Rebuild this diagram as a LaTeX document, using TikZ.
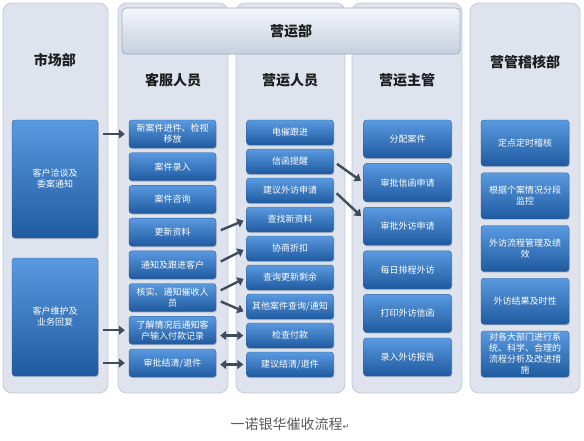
\documentclass[tikz,border=0pt]{standalone}
\usepackage{fontspec}
\setmainfont{Noto Sans CJK SC}
\newfontfamily\symfont{DejaVu Sans}
\usetikzlibrary{arrows.meta, calc, shadows}
\definecolor{panelbg}{HTML}{DEE3ED}
\definecolor{panelln}{HTML}{C3CAD8}
\definecolor{bantop}{HTML}{F4F6FA}
\definecolor{banbot}{HTML}{C6D0E0}
\definecolor{banln}{HTML}{9FACC2}
\definecolor{boxtop}{HTML}{5A9AE0}
\definecolor{boxbot}{HTML}{1F5AA0}
\definecolor{boxln}{HTML}{2B5F98}
\definecolor{arrowc}{HTML}{3E4C5E}
\definecolor{titlec}{HTML}{1E1E1E}
\definecolor{capc}{HTML}{5A5A5A}
\tikzset{
  panel/.style  = {fill=panelbg, draw=panelln, line width=0.8pt, rounded corners=9pt},
  banner/.style = {rectangle, draw=banln, line width=0.8pt, top color=bantop, bottom color=banbot,
                   rounded corners=4pt, minimum width=338, minimum height=46,
                   font=\fontsize{14}{16}\selectfont\bfseries, text=titlec},
  head/.style   = {font=\fontsize{14}{16}\selectfont\bfseries, text=titlec},
  block/.style  = {rectangle, draw=boxln, top color=boxtop, bottom color=boxbot,
                   rounded corners=3pt, text=white, align=center, inner sep=1pt,
                   font=\fontsize{9}{11}\selectfont,
                   drop shadow={shadow xshift=0.8pt, shadow yshift=-1.2pt, opacity=0.35}},
  blockM/.style = {block, minimum width=86, minimum height=118},
  blockK/.style = {block, minimum width=87, minimum height=28},
  blockY/.style = {block, minimum width=87, minimum height=25},
  blockZ/.style = {block, minimum width=88, minimum height=38},
  blockJ/.style = {block, minimum width=88, minimum height=46},
  arrow/.style  = {arrowc, line width=2.4pt, -{Triangle[length=6pt,width=9pt]}},
  darrow/.style = {arrowc, line width=2.4pt, {Triangle[length=6pt,width=9pt]}-{Triangle[length=6pt,width=9pt]}},
}

\begin{document}
\begin{tikzpicture}[x=1pt, y=-1pt]
    \useasboundingbox (0,0) rectangle (584,440);

    %% Background panels
    \draw[panel] (3,3)   rectangle (108,393);
    \draw[panel] (118,3) rectangle (228,393);
    \draw[panel] (236,3) rectangle (345,393);
    \draw[panel] (352,3) rectangle (462,393);
    \draw[panel] (470,3) rectangle (580,393);

    %% Banner and column titles
    \node[banner] (yyb) at (291,31) {营运部};
    \node[head] (tM) at (55,60)  {市场部};
    \node[head] (tK) at (173,80) {客服人员};
    \node[head] (tY) at (290,80) {营运人员};
    \node[head] (tZ) at (407,80) {营运主管};
    \node[head] (tJ) at (525,62) {营管稽核部};

    %% 市场部
    \node[blockM] (a1) at (55,179) {客户洽谈及\\委案通知};
    \node[blockM] (a2) at (55,317) {客户维护及\\业务回复};

    %% 客服人员
    \node[blockK] (b1) at (172.5,134)   {新案件进件、检视\\移放};
    \node[blockK] (b2) at (172.5,166.7) {案件录入};
    \node[blockK] (b3) at (172.5,199.4) {案件咨询};
    \node[blockK] (b4) at (172.5,232.1) {更新资料};
    \node[blockK] (b5) at (172.5,264.8) {通知及跟进客户};
    \node[blockK] (b6) at (172.5,297.5) {核实、通知催收人\\员};
    \node[blockK] (b7) at (172.5,330.2) {了解情况后通知客\\户输入付款记录};
    \node[blockK] (b8) at (172.5,363)   {审批结清/退件};

    %% 营运人员
    \node[blockY] (c1) at (290,132.5) {电催跟进};
    \node[blockY] (c2) at (290,161.5) {信函提醒};
    \node[blockY] (c3) at (290,190.5) {建议外访申请};
    \node[blockY] (c4) at (290,219.5) {查找新资料};
    \node[blockY] (c5) at (290,248.5) {协商折扣};
    \node[blockY] (c6) at (290,277.5) {查询更新剩余};
    \node[blockY] (c7) at (290,306.5) {其他案件查询/通知};
    \node[blockY] (c8) at (290,335.5) {检查付款};
    \node[blockY] (c9) at (290,364.5) {建议结清/退件};

    %% 营运主管
    \node[blockZ] (d1) at (407.5,139) {分配案件};
    \node[blockZ] (d2) at (407.5,182.6) {审批信函申请};
    \node[blockZ] (d3) at (407.5,226.2) {审批外访申请};
    \node[blockZ] (d4) at (407.5,269.8) {每日排程外访};
    \node[blockZ] (d5) at (407.5,313.4) {打印外访信函};
    \node[blockZ] (d6) at (407.5,357)   {录入外访报告};

    %% 营管稽核部
    \node[blockJ] (e1) at (525,143)    {定点定时稽核};
    \node[blockJ] (e2) at (525,195.75) {根据个案情况分段\\监控};
    \node[blockJ] (e3) at (525,248.5)  {外访流程管理及绩\\效};
    \node[blockJ] (e4) at (525,301.25) {外访结果及时性};
    \node[blockJ] (e5) at (525,354)    {对各大部门进行系\\统、科学、合理的\\流程分析及改进措\\施};

    %% Arrows
    \draw[arrow, shorten <=5pt, shorten >=4pt] (a1.east |- b1.west) -- (b1.west);
    \draw[arrow, shorten <=5pt, shorten >=4pt] (a2.east |- b7.west) -- (b7.west);
    \draw[arrow, shorten <=5pt, shorten >=4pt] (a2.east |- b8.west) -- (b8.west);

    \draw[arrow, shorten <=5pt, shorten >=3pt] (b4.east) -- (c4.west);
    \draw[arrow, shorten <=5pt, shorten >=3pt] ([yshift=1pt]b5.east) -- (c5.west);
    \draw[arrow, shorten <=5pt, shorten >=3pt] ([yshift=5pt]b6.east) -- (c6.west);
    \draw[arrow, shorten <=5pt, shorten >=3pt] ([yshift=-2pt]b6.east) -- ([yshift=-6pt]c7.west);
    \draw[darrow, shorten <=4pt, shorten >=3pt] (b7.east |- c8.west) -- (c8.west);
    \draw[darrow, shorten <=4pt, shorten >=3pt] (b8.east |- c9.west) -- (c9.west);

    \draw[arrow, shorten <=4pt, shorten >=3pt] (c2.east) -- (d2.west);
    \draw[arrow, shorten <=4pt, shorten >=3pt] (c3.east) -- ([yshift=8pt]d3.west);

    %% Caption
    \node[text=capc, font=\fontsize{14}{16}\selectfont] (cap) at (290,424)
        {一诺银华催收流程{\symfont\fontsize{8}{10}\selectfont ↵}};

\end{tikzpicture}
\end{document}
